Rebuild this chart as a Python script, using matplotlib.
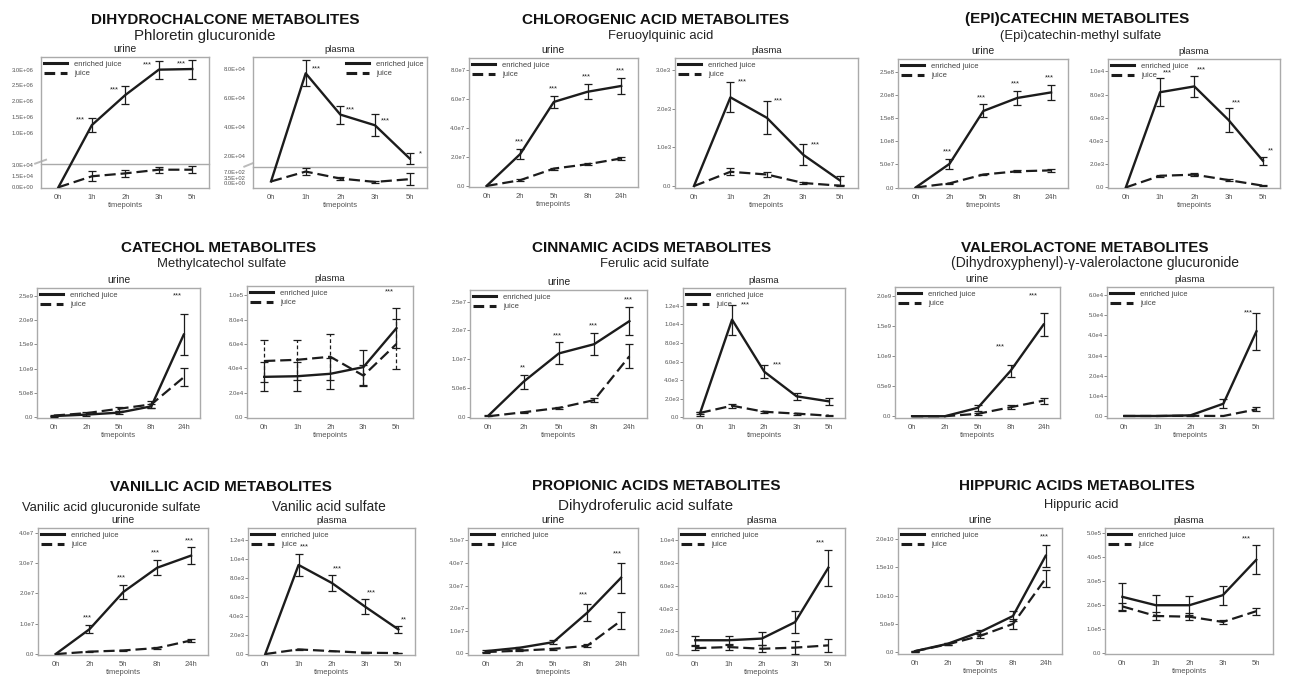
import numpy as np
import matplotlib
matplotlib.use("Agg")
import matplotlib.pyplot as plt
from matplotlib.lines import Line2D
import matplotlib.transforms as mtrans

plt.rcParams['font.family'] = ['Liberation Sans', 'DejaVu Sans']

# ------------------------------------------------------------------ data
URINE_TIMES = ["0h", "2h", "5h", "8h", "24h"]
PLASMA_TIMES = ["0h", "1h", "2h", "3h", "5h"]
SERIES_LABELS = ["enriched juice", "juice"]

GROUP_TITLES = ["DIHYDROCHALCONE METABOLITES", "CHLOROGENIC ACID METABOLITES",
                "(EPI)CATECHIN METABOLITES", "CATECHOL METABOLITES",
                "CINNAMIC ACIDS METABOLITES", "VALEROLACTONE METABOLITES",
                "VANILLIC ACID METABOLITES", "PROPIONIC ACIDS METABOLITES",
                "HIPPURIC ACIDS METABOLITES"]
SUBTITLES = ["Phloretin glucuronide", "Feruoylquinic acid", "(Epi)catechin-methyl sulfate",
             "Methylcatechol sulfate", "Ferulic acid sulfate",
             "(Dihydroxyphenyl)-γ-valerolactone glucuronide",
             "Vanilic acid glucuronide sulfate", "Vanilic acid sulfate",
             "Dihydroferulic acid sulfate", "Hippuric acid"]

# Dihydrochalcone – Phloretin glucuronide (broken axes)
dh_u_enr = [0, 1.25e6, 2.2e6, 3.0e6, 3.02e6]
dh_u_enr_err = [0, 0.23e6, 0.28e6, 0.28e6, 0.30e6]
dh_u_jui = [0, 1.5e4, 1.9e4, 2.4e4, 2.4e4]
dh_u_jui_err = [0, 0.7e4, 0.5e4, 0.4e4, 0.45e4]
dh_u_stars = ["", "***", "***", "***", "***"]
dh_u_yticks = [0, 1.5e4, 3.0e4, 1.0e6, 1.5e6, 2.0e6, 2.5e6, 3.0e6]
dh_u_ylabels = ["0.0E+00", "1.5E+04", "3.0E+04", "1.0E+06", "1.5E+06", "2.0E+06", "2.5E+06", "3.0E+06"]
dh_u_segments = [-1000, 3.23e4, 3.23e4, 3.40e6]   # lower min, lower max, upper min, upper max

dh_p_enr = [100, 7.7e4, 4.84e4, 4.1e4, 1.8e4]
dh_p_enr_err = [0, 0.9e4, 0.62e4, 0.77e4, 0.35e4]
dh_p_jui = [100, 750, 290, 70, 250]
dh_p_jui_err = [0, 220, 110, 90, 380]
dh_p_stars = ["", "***", "***", "***", "*"]
dh_p_yticks = [0, 350, 700, 2e4, 4e4, 6e4, 8e4]
dh_p_ylabels = ["0.0E+00", "3.5E+02", "7.0E+02", "2.0E+04", "4.0E+04", "6.0E+04", "8.0E+04"]
dh_p_segments = [-330, 1030, 1.19e4, 8.83e4]

# Chlorogenic acid – Feruoylquinic acid
cg_u_enr = [0, 2.2e7, 5.8e7, 6.5e7, 6.9e7]
cg_u_enr_err = [0, 0.36e7, 0.44e7, 0.52e7, 0.53e7]
cg_u_jui = [0, 0.4e7, 1.2e7, 1.5e7, 1.9e7]
cg_u_jui_err = [0, 0.05e7, 0.07e7, 0.08e7, 0.12e7]
cg_u_stars = ["", "***", "***", "***", "***"]
cg_u_yticks = [0, 2e7, 4e7, 6e7, 8e7]
cg_u_ylabels = ["0.0", "2.0e7", "4.0e7", "6.0e7", "8.0e7"]
cg_u_ylim = [-0.07e7, 8.83e7]

cg_p_enr = [0, 2.3e3, 1.77e3, 0.81e3, 0.15e3]
cg_p_enr_err = [0, 0.39e3, 0.43e3, 0.27e3, 0.12e3]
cg_p_jui = [0, 0.37e3, 0.30e3, 0.08e3, 0.01e3]
cg_p_jui_err = [0, 0.09e3, 0.06e3, 0.03e3, 0.02e3]
cg_p_stars = ["", "***", "***", "***", ""]
cg_p_yticks = [0, 1e3, 2e3, 3e3]
cg_p_ylabels = ["0.0", "1.0e3", "2.0e3", "3.0e3"]
cg_p_ylim = [-0.05e3, 3.32e3]

# (Epi)catechin – (Epi)catechin-methyl sulfate
ec_u_enr = [0, 0.51e8, 1.65e8, 1.93e8, 2.05e8]
ec_u_enr_err = [0, 0.10e8, 0.14e8, 0.15e8, 0.17e8]
ec_u_jui = [0, 0.09e8, 0.28e8, 0.35e8, 0.37e8]
ec_u_jui_err = [0, 0.01e8, 0.02e8, 0.025e8, 0.03e8]
ec_u_stars = ["", "***", "***", "***", "***"]
ec_u_yticks = [0, 5e7, 1e8, 1.5e8, 2e8, 2.5e8]
ec_u_ylabels = ["0.0", "5.0e7", "1.0e8", "1.5e8", "2.0e8", "2.5e8"]
ec_u_ylim = [-0.01e8, 2.77e8]

ec_p_enr = [0, 8.2e3, 8.7e3, 5.8e3, 2.3e3]
ec_p_enr_err = [0, 1.2e3, 0.9e3, 1.0e3, 0.35e3]
ec_p_jui = [0, 1.0e3, 1.1e3, 0.63e3, 0.15e3]
ec_p_jui_err = [0, 0.1e3, 0.1e3, 0.08e3, 0.05e3]
ec_p_stars = ["", "***", "***", "***", "**"]
ec_p_yticks = [0, 2e3, 4e3, 6e3, 8e3, 1e4]
ec_p_ylabels = ["0.0", "2.0e3", "4.0e3", "6.0e3", "8.0e3", "1.0e4"]
ec_p_ylim = [-0.05e3, 1.106e4]

# Catechol – Methylcatechol sulfate
ct_u_enr = [0.02e9, 0.05e9, 0.09e9, 0.22e9, 1.7e9]
ct_u_enr_err = [0.01e9, 0.02e9, 0.03e9, 0.04e9, 0.42e9]
ct_u_jui = [0.03e9, 0.08e9, 0.17e9, 0.26e9, 0.82e9]
ct_u_jui_err = [0.01e9, 0.02e9, 0.04e9, 0.08e9, 0.19e9]
ct_u_stars = ["", "", "", "", "***"]
ct_u_yticks = [0, 5e8, 1e9, 1.5e9, 2e9, 2.5e9]
ct_u_ylabels = ["0.0", "5.0e8", "1.0e9", "1.5e9", "2.0e9", "2.5e9"]
ct_u_ylim = [-0.02e9, 2.66e9]

ct_p_enr = [3.3e4, 3.35e4, 3.55e4, 4.1e4, 7.3e4]
ct_p_enr_err = [1.2e4, 1.2e4, 1.28e4, 1.43e4, 1.65e4]
ct_p_jui = [4.6e4, 4.7e4, 4.95e4, 3.4e4, 6.0e4]
ct_p_jui_err = [1.7e4, 1.65e4, 1.9e4, 0.85e4, 2.07e4]
ct_p_stars = ["", "", "", "", "***"]
ct_p_yticks = [0, 2e4, 4e4, 6e4, 8e4, 1e5]
ct_p_ylabels = ["0.0", "2.0e4", "4.0e4", "6.0e4", "8.0e4", "1.0e5"]
ct_p_ylim = [-0.08e4, 1.076e5]

# Cinnamic acids – Ferulic acid sulfate
cn_u_enr = [0.02e7, 0.61e7, 1.10e7, 1.26e7, 1.66e7]
cn_u_enr_err = [0.01e7, 0.12e7, 0.19e7, 0.19e7, 0.245e7]
cn_u_jui = [0.01e7, 0.08e7, 0.155e7, 0.29e7, 1.05e7]
cn_u_jui_err = [0, 0.01e7, 0.02e7, 0.03e7, 0.21e7]
cn_u_stars = ["", "**", "***", "***", "***"]
cn_u_yticks = [0, 5e6, 1e7, 1.5e7, 2e7]
cn_u_ylabels = ["0.0", "5.0e6", "1.0e7", "2.0e7", "2.5e7"]
cn_u_ylim = [-0.02e7, 2.2e7]

cn_p_enr = [0.36e3, 1.05e4, 4.9e3, 2.26e3, 1.72e3]
cn_p_enr_err = [0.2e3, 1.6e3, 0.72e3, 0.36e3, 0.4e3]
cn_p_jui = [0.47e3, 1.25e3, 0.6e3, 0.4e3, 0.18e3]
cn_p_jui_err = [0.15e3, 0.2e3, 0.1e3, 0.1e3, 0.05e3]
cn_p_stars = ["", "***", "***", "", ""]
cn_p_yticks = [0, 2e3, 4e3, 6e3, 8e3, 1e4, 1.2e4]
cn_p_ylabels = ["0.0", "2.0e3", "4.0e3", "6.0e3", "8.0e3", "1.0e4", "1.2e4"]
cn_p_ylim = [-0.07e3, 1.39e4]

# Valerolactone – (Dihydroxyphenyl)-γ-valerolactone glucuronide
vl_u_enr = [0, 0, 0.14e9, 0.76e9, 1.53e9]
vl_u_enr_err = [0, 0, 0.05e9, 0.10e9, 0.19e9]
vl_u_jui = [0, 0, 0.04e9, 0.15e9, 0.26e9]
vl_u_jui_err = [0, 0, 0.02e9, 0.03e9, 0.05e9]
vl_u_stars = ["", "", "", "***", "***"]
vl_u_yticks = [0, 0.5e9, 1e9, 1.5e9, 2e9]
vl_u_ylabels = ["0.0", "0.5e9", "1.0e9", "1.5e9", "2.0e9"]
vl_u_ylim = [-0.03e9, 2.156e9]

vl_p_enr = [0, 0, 0.03e4, 0.61e4, 4.2e4]
vl_p_enr_err = [0, 0, 0.02e4, 0.23e4, 0.93e4]
vl_p_jui = [0, 0, 0.01e4, 0, 0.33e4]
vl_p_jui_err = [0, 0, 0, 0, 0.1e4]
vl_p_stars = ["", "", "", "", "***"]
vl_p_yticks = [0, 1e4, 2e4, 3e4, 4e4, 5e4, 6e4]
vl_p_ylabels = ["0.0", "1.0e4", "2.0e4", "3.0e4", "4.0e4", "5.0e4", "6.0e4"]
vl_p_ylim = [-0.1e4, 6.4e4]

# Vanillic acid
va_u_enr = [0, 0.82e7, 2.05e7, 2.85e7, 3.25e7]
va_u_enr_err = [0, 0.13e7, 0.23e7, 0.25e7, 0.27e7]
va_u_jui = [0, 0.08e7, 0.12e7, 0.20e7, 0.45e7]
va_u_jui_err = [0, 0.01e7, 0.01e7, 0.02e7, 0.06e7]
va_u_stars = ["", "***", "***", "***", "***"]
va_u_yticks = [0, 1e7, 2e7, 3e7, 4e7]
va_u_ylabels = ["0.0", "1.0e7", "2.0e7", "3.0e7", "4.0e7"]
va_u_ylim = [-0.03e7, 4.16e7]

va_p_enr = [0, 9.4e3, 7.5e3, 5.0e3, 2.6e3]
va_p_enr_err = [0, 1.2e3, 0.85e3, 0.78e3, 0.35e3]
va_p_jui = [0, 0.49e3, 0.31e3, 0.14e3, 0.10e3]
va_p_jui_err = [0, 0.05e3, 0.03e3, 0.02e3, 0.02e3]
va_p_stars = ["", "***", "***", "***", "**"]
va_p_yticks = [0, 2e3, 4e3, 6e3, 8e3, 1e4, 1.2e4]
va_p_ylabels = ["0.0", "2.0e3", "4.0e3", "6.0e3", "8.0e3", "1.0e4", "1.2e4"]
va_p_ylim = [-0.1e3, 1.33e4]

# Propionic acids – Dihydroferulic acid sulfate
pr_u_enr = [0.1e7, 0.25e7, 0.5e7, 1.8e7, 3.35e7]
pr_u_enr_err = [0.03e7, 0.05e7, 0.10e7, 0.37e7, 0.66e7]
pr_u_jui = [0.06e7, 0.12e7, 0.20e7, 0.34e7, 1.45e7]
pr_u_jui_err = [0.02e7, 0.03e7, 0.04e7, 0.06e7, 0.37e7]
pr_u_stars = ["", "", "", "***", "***"]
pr_u_yticks = [0, 1e7, 2e7, 3e7, 4e7, 5e7]
pr_u_ylabels = ["0.0", "1.0e7", "2.0e7", "3.0e7", "4.0e7", "5.0e7"]
pr_u_ylim = [-0.07e7, 5.55e7]

pr_p_enr = [1.2e3, 1.2e3, 1.35e3, 2.8e3, 7.6e3]
pr_p_enr_err = [0.39e3, 0.4e3, 0.6e3, 0.96e3, 1.6e3]
pr_p_jui = [0.5e3, 0.6e3, 0.45e3, 0.55e3, 0.75e3]
pr_p_jui_err = [0.2e3, 0.25e3, 0.3e3, 0.55e3, 0.55e3]
pr_p_stars = ["", "", "", "", "***"]
pr_p_yticks = [0, 2e3, 4e3, 6e3, 8e3, 1e4]
pr_p_ylabels = ["0.0", "2.0e3", "4.0e3", "6.0e3", "8.0e3", "1.0e4"]
pr_p_ylim = [-0.1e3, 1.11e4]

# Hippuric acids – Hippuric acid
hp_u_enr = [0.2e9, 1.5e9, 3.6e9, 6.4e9, 1.7e10]
hp_u_enr_err = [0.1e9, 0.2e9, 0.4e9, 0.8e9, 1.9e9]
hp_u_jui = [0.2e9, 1.4e9, 2.9e9, 5.0e9, 1.3e10]
hp_u_jui_err = [0.1e9, 0.2e9, 0.4e9, 0.85e9, 1.5e9]
hp_u_stars = ["", "", "", "", "***"]
hp_u_yticks = [0, 5e9, 1e10, 1.5e10, 2e10]
hp_u_ylabels = ["0.0", "5.0e9", "1.0e10", "1.5e10", "2.0e10"]
hp_u_ylim = [-0.03e10, 2.19e10]

hp_p_enr = [2.35e5, 2.0e5, 2.0e5, 2.42e5, 3.9e5]
hp_p_enr_err = [0.6e5, 0.43e5, 0.39e5, 0.4e5, 0.6e5]
hp_p_jui = [1.95e5, 1.55e5, 1.52e5, 1.3e5, 1.75e5]
hp_p_jui_err = [0.15e5, 0.15e5, 0.14e5, 0.1e5, 0.15e5]
hp_p_stars = ["", "", "", "", "***"]
hp_p_yticks = [0, 1e5, 2e5, 3e5, 4e5, 5e5]
hp_p_ylabels = ["0.0", "1.0e5", "2.0e5", "3.0e5", "4.0e5", "5.0e5"]
hp_p_ylim = [-0.04e5, 5.23e5]

# ------------------------------------------------------------------ style / layout
W, H = 1290, 691
INK = "#1c1c1c"
TXT = "#222222"
TICK = "#555555"
SPINE = "#aaaaaa"

fig = plt.figure(figsize=(W / 100, H / 100), dpi=100)
fig.patch.set_facecolor("white")


def add_axes_px(l, r, t, b):
    return fig.add_axes([l / W, 1 - b / H, (r - l) / W, (b - t) / H])


def make_break(lo_min, lo_max, up_min, up_max, fb):
    def fwd(v):
        v = np.asarray(v, dtype=float)
        lo = (v - lo_min) / (lo_max - lo_min) * fb
        up = fb + (v - up_min) / (up_max - up_min) * (1 - fb)
        return np.where(v <= lo_max, lo, np.where(v < up_min, fb, up))

    def inv(f):
        f = np.asarray(f, dtype=float)
        return np.where(f <= fb, lo_min + f / fb * (lo_max - lo_min),
                        up_min + (f - fb) / (1 - fb) * (up_max - up_min))
    return fwd, inv


def draw_series(ax, x, y, err, dashed, err_dashed=False):
    y = np.asarray(y, dtype=float)
    err = np.asarray(err, dtype=float)
    if dashed:
        ax.plot(x, y, color=INK, lw=1.6, dashes=(5, 2.2), zorder=3)
    else:
        ax.plot(x, y, color=INK, lw=1.7, zorder=4)
    m = err > 0
    if m.any():
        c = ax.errorbar(x[m], y[m], yerr=err[m], fmt='none', ecolor=INK,
                        elinewidth=0.9, capsize=3, capthick=0.9, zorder=3)
        if err_dashed:
            c[2][0].set_linestyle((0, (3, 2)))


def panel(box, label, times, enr, enr_err, jui, jui_err, stars, yticks, ylabels,
          ylim=None, segments=None, fb=None, star_dx=0.0, star_dy=3, star_anchor="top",
          star_va="bottom", legend_loc="upper left", err_dashed=False, broken=False):
    ax = add_axes_px(*box)
    x = np.arange(len(times))
    if broken:
        fwd, inv = make_break(*segments, fb)
        ax.set_yscale('function', functions=(fwd, inv))
        ax.set_ylim(segments[0], segments[3])
    else:
        ax.set_ylim(*ylim)
    draw_series(ax, x, jui, jui_err, dashed=True, err_dashed=err_dashed)
    draw_series(ax, x, enr, enr_err, dashed=False)

    for i, s in enumerate(stars):
        if not s:
            continue
        yv = enr[i] + (enr_err[i] if star_anchor == "top" else 0)
        ax.annotate(s, xy=(i + star_dx, yv), xytext=(0, star_dy), textcoords='offset points',
                    ha='center', va=star_va, fontsize=5.5, color=TXT)

    ax.set_xlim(-0.52, 4.5)
    ax.set_xticks(x)
    ax.set_xticklabels(times)
    ax.set_yticks(yticks)
    ax.set_yticklabels(ylabels)
    ax.minorticks_off()
    ax.tick_params(axis='x', length=0, pad=4.2, labelsize=5.5, labelcolor=TICK)
    if broken:
        ax.tick_params(axis='y', length=0, pad=5.5, labelsize=4.2, labelcolor=TICK)
    else:
        ax.tick_params(axis='y', length=2, width=0.6, color="#777777", pad=0.6,
                       labelsize=4.3, labelcolor=TICK)
    ax.set_xlabel("timepoints", fontsize=5.5, color=TICK, labelpad=0.6)
    for sp in ax.spines.values():
        sp.set_color(SPINE)
        sp.set_linewidth(1.0)

    handles = [Line2D([], [], color=INK, lw=2.2),
               Line2D([], [], color=INK, lw=2.2, dashes=(3.5, 1.8))]
    leg = ax.legend(handles, SERIES_LABELS, loc=legend_loc, frameon=False, fontsize=5.5,
                    handlelength=3.0, handletextpad=0.9, labelspacing=0.28,
                    borderaxespad=0.25, borderpad=0.2)
    for t in leg.get_texts():
        t.set_color("#444444")

    off = mtrans.offset_copy(ax.transAxes, fig=fig, x=0, y=3.5, units='points')
    ax.text(0.5, 1.0, label, transform=off, ha='center', va='baseline',
            fontsize=7.5 if label == "urine" else 6.8, color=TXT)
    return ax


# ---- row 1
ax = panel((41, 209, 57, 188), "urine", PLASMA_TIMES, dh_u_enr, dh_u_enr_err, dh_u_jui,
           dh_u_jui_err, dh_u_stars, dh_u_yticks, dh_u_ylabels, segments=dh_u_segments,
           fb=0.186, broken=True, star_dx=-0.33, star_dy=1, star_anchor="value")
ax.plot([0, 1], [0.186, 0.186], transform=ax.transAxes, color=SPINE, lw=1.0, clip_on=False)
ax.plot([-0.035, 0.03], [0.186, 0.216], transform=ax.transAxes, color="#bbbbbb", lw=1.4,
        clip_on=False)

ax = panel((253, 427, 57, 188), "plasma", PLASMA_TIMES, dh_p_enr, dh_p_enr_err, dh_p_jui,
           dh_p_jui_err, dh_p_stars, dh_p_yticks, dh_p_ylabels, segments=dh_p_segments,
           fb=0.158, broken=True, star_dx=0.3, star_dy=1, star_anchor="value",
           legend_loc="upper right")
ax.plot([0, 1], [0.158, 0.158], transform=ax.transAxes, color=SPINE, lw=1.0, clip_on=False)
ax.plot([-0.05, 0.0], [0.163, 0.19], transform=ax.transAxes, color="#bbbbbb", lw=1.4,
        clip_on=False)

panel((469, 638, 58, 187), "urine", URINE_TIMES, cg_u_enr, cg_u_enr_err, cg_u_jui, cg_u_jui_err,
      cg_u_stars, cg_u_yticks, cg_u_ylabels, ylim=cg_u_ylim, star_dx=-0.02, star_dy=2.5)
panel((675, 858, 58, 188), "plasma", PLASMA_TIMES, cg_p_enr, cg_p_enr_err, cg_p_jui, cg_p_jui_err,
      cg_p_stars, cg_p_yticks, cg_p_ylabels, ylim=cg_p_ylim, star_dx=0.32, star_dy=0,
      star_va="center")
panel((898, 1068, 59, 188), "urine", URINE_TIMES, ec_u_enr, ec_u_enr_err, ec_u_jui, ec_u_jui_err,
      ec_u_stars, ec_u_yticks, ec_u_ylabels, ylim=ec_u_ylim, star_dx=-0.05, star_dy=2.5)
panel((1108, 1280, 59, 188), "plasma", PLASMA_TIMES, ec_p_enr, ec_p_enr_err, ec_p_jui,
      ec_p_jui_err, ec_p_stars, ec_p_yticks, ec_p_ylabels, ylim=ec_p_ylim, star_dx=0.22,
      star_dy=1.5)

# ---- row 2
panel((37, 200, 288, 418), "urine", URINE_TIMES, ct_u_enr, ct_u_enr_err, ct_u_jui, ct_u_jui_err,
      ct_u_stars, ct_u_yticks, ct_u_ylabels, ylim=ct_u_ylim, star_dx=-0.2, star_dy=11)
panel((247, 413, 286, 418), "plasma", PLASMA_TIMES, ct_p_enr, ct_p_enr_err, ct_p_jui, ct_p_jui_err,
      ct_p_stars, ct_p_yticks, ct_p_ylabels, ylim=ct_p_ylim, star_dx=-0.2, star_dy=9,
      err_dashed=True)
panel((470, 647, 290, 418), "urine", URINE_TIMES, cn_u_enr, cn_u_enr_err, cn_u_jui, cn_u_jui_err,
      cn_u_stars, cn_u_yticks, cn_u_ylabels, ylim=cn_u_ylim, star_dx=-0.03, star_dy=2.5)
panel((683, 845, 288, 418), "plasma", PLASMA_TIMES, cn_p_enr, cn_p_enr_err, cn_p_jui, cn_p_jui_err,
      cn_p_stars, cn_p_yticks, cn_p_ylabels, ylim=cn_p_ylim, star_dx=0.4, star_dy=0,
      star_va="center")
panel((895, 1060, 287, 418), "urine", URINE_TIMES, vl_u_enr, vl_u_enr_err, vl_u_jui, vl_u_jui_err,
      vl_u_stars, vl_u_yticks, vl_u_ylabels, ylim=vl_u_ylim, star_dx=-0.3, star_dy=10)
panel((1107, 1273, 287, 418), "plasma", PLASMA_TIMES, vl_p_enr, vl_p_enr_err, vl_p_jui,
      vl_p_jui_err, vl_p_stars, vl_p_yticks, vl_p_ylabels, ylim=vl_p_ylim, star_dx=-0.25,
      star_dy=0, star_va="center")

# ---- row 3
panel((38, 208, 528, 655), "urine", URINE_TIMES, va_u_enr, va_u_enr_err, va_u_jui, va_u_jui_err,
      va_u_stars, va_u_yticks, va_u_ylabels, ylim=va_u_ylim, star_dx=-0.05, star_dy=2.5)
panel((248, 415, 528, 655), "plasma", PLASMA_TIMES, va_p_enr, va_p_enr_err, va_p_jui, va_p_jui_err,
      va_p_stars, va_p_yticks, va_p_ylabels, ylim=va_p_ylim, star_dx=0.18, star_dy=2)
panel((468, 638, 528, 655), "urine", URINE_TIMES, pr_u_enr, pr_u_enr_err, pr_u_jui, pr_u_jui_err,
      pr_u_stars, pr_u_yticks, pr_u_ylabels, ylim=pr_u_ylim, star_dx=-0.1, star_dy=4)
panel((678, 845, 528, 655), "plasma", PLASMA_TIMES, pr_p_enr, pr_p_enr_err, pr_p_jui, pr_p_jui_err,
      pr_p_stars, pr_p_yticks, pr_p_ylabels, ylim=pr_p_ylim, star_dx=-0.25, star_dy=2)
panel((898, 1062, 528, 654), "urine", URINE_TIMES, hp_u_enr, hp_u_enr_err, hp_u_jui, hp_u_jui_err,
      hp_u_stars, hp_u_yticks, hp_u_ylabels, ylim=hp_u_ylim, star_dx=-0.05, star_dy=3)
panel((1105, 1273, 528, 654), "plasma", PLASMA_TIMES, hp_p_enr, hp_p_enr_err, hp_p_jui,
      hp_p_jui_err, hp_p_stars, hp_p_yticks, hp_p_ylabels, ylim=hp_p_ylim, star_dx=-0.3,
      star_dy=2)

# ---- group titles and subtitles (pixel positions of baselines)
title_pos = [(225, 23.5), (656, 23.5), (1077, 23.5),
             (219, 252), (652, 252.5), (1085, 252),
             (221, 491), (656, 490.5), (1077, 490.5)]
for t, (xp, yp) in zip(GROUP_TITLES, title_pos):
    fig.text(xp / W, 1 - yp / H, t, ha='center', va='baseline', fontsize=11,
             fontweight='bold', color="#111111")

sub_pos = [(205, 40, 10.8), (661, 39.5, 9.4), (1081, 39.5, 9.4),
           (222, 266.5, 9.4), (655, 266.5, 9.4), (1095, 266.5, 10),
           (111, 511, 9.4), (329, 511, 9.9), (646, 510, 11), (1081, 508, 9.3)]
for s, (xp, yp, fs) in zip(SUBTITLES, sub_pos):
    fig.text(xp / W, 1 - yp / H, s, ha='center', va='baseline', fontsize=fs, color=TXT)

fig.savefig("out.png", dpi=100, facecolor="white")
